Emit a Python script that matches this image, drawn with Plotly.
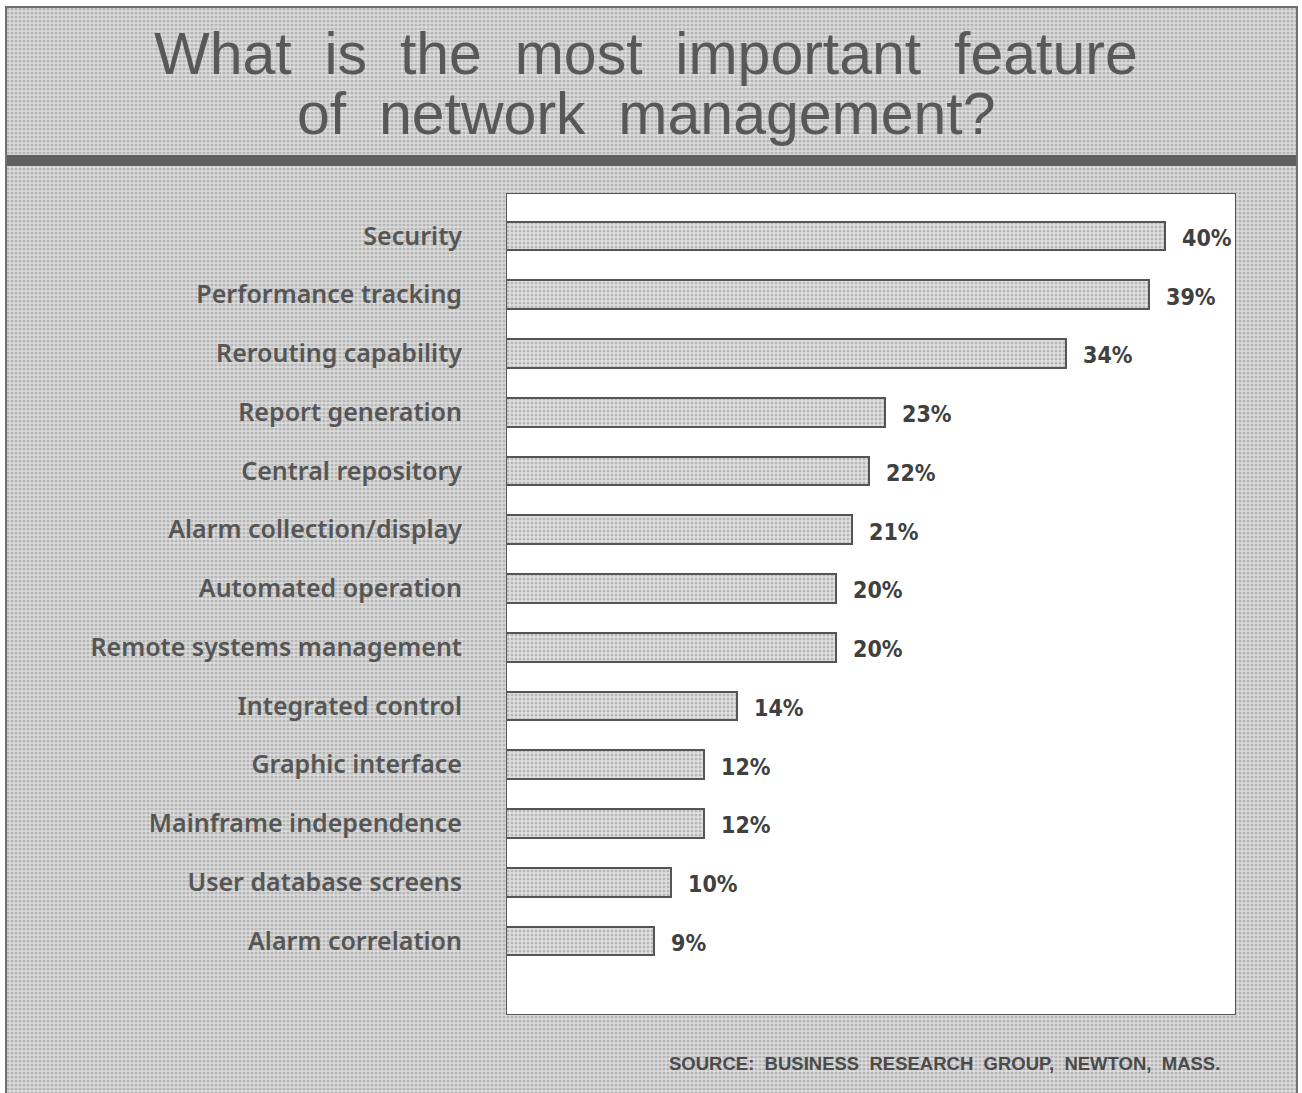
import plotly.graph_objects as go

# ---------------- data ----------------
categories = [
    "Security",
    "Performance tracking",
    "Rerouting capability",
    "Report generation",
    "Central repository",
    "Alarm collection/display",
    "Automated operation",
    "Remote systems management",
    "Integrated control",
    "Graphic interface",
    "Mainframe independence",
    "User database screens",
    "Alarm correlation",
]
values = [40, 39, 34, 23, 22, 21, 20, 20, 14, 12, 12, 10, 9]
value_labels = [f"{v}%" for v in values]
title_lines = ["What is the most important feature", "of network management?"]
source_text = "SOURCE: BUSINESS RESEARCH GROUP, NEWTON, MASS."

# ---------------- layout helpers ----------------
W, H = 1302, 1093


def px(x):
    return x / W


def py(y):
    return 1 - y / H


def wide(s):
    return s.replace(" ", "\u00a0 ")


XMAX = 44.3
Y_TOP = -0.73
Y_BOT = len(categories) - 1 + 1.26

DOT = dict(shape=".", size=4, solidity=0.5, fgcolor="#8c8c8c", bgcolor="#dedede")
DOT_BAR = dict(shape=".", size=4, solidity=0.45, fgcolor="#8c8c8c", bgcolor="#e2e2e2")

fig = go.Figure()

# textured page background
fig.add_trace(go.Bar(
    x=[1], y=[0.5], base=[0], width=[1], orientation="h",
    xaxis="x", yaxis="y",
    marker=dict(color="#dedede", line=dict(width=0), pattern=DOT),
    hoverinfo="skip", showlegend=False,
))

# data bars
fig.add_trace(go.Bar(
    x=values, y=categories, orientation="h",
    xaxis="x2", yaxis="y2", width=0.49,
    marker=dict(color="#e2e2e2", line=dict(color="#555555", width=2), pattern=DOT_BAR),
    hoverinfo="skip", showlegend=False,
))

annotations = []
annotations.append(dict(
    xref="paper", yref="paper", x=px(646), y=py(54), xanchor="center", yanchor="middle",
    text=wide(title_lines[0]), showarrow=False,
    font=dict(family="Liberation Sans, Arial, sans-serif", size=59, color="#585858"),
))
annotations.append(dict(
    xref="paper", yref="paper", x=px(646), y=py(114), xanchor="center", yanchor="middle",
    text=wide(title_lines[1]), showarrow=False,
    font=dict(family="Liberation Sans, Arial, sans-serif", size=59, color="#585858"),
))
annotations.append(dict(
    xref="paper", yref="paper", x=px(1222), y=py(1063), xanchor="right", yanchor="middle",
    text=wide(source_text), showarrow=False,
    font=dict(family="Liberation Sans, Arial, sans-serif", size=18.5, color="#4a4a4a", weight="bold"),
))
for cat, v, lab in zip(categories, values, value_labels):
    annotations.append(dict(
        xref="x2", yref="y2", x=v, y=cat, xanchor="left", yanchor="middle",
        xshift=15, yshift=-2, text=lab, showarrow=False,
        font=dict(family="Liberation Sans Narrow, DejaVu Sans Condensed, Liberation Sans, sans-serif",
                  size=23, color="#404040", weight="bold"),
    ))

shapes = [
    # white plot panel with border
    dict(type="rect", xref="x2", yref="y2", x0=0, x1=XMAX, y0=Y_BOT, y1=Y_TOP,
         fillcolor="white", line=dict(color="#555555", width=2), layer="below"),
    # heavy rule under the header
    dict(type="rect", xref="paper", yref="paper", x0=px(6), x1=px(1297), y0=py(166), y1=py(155),
         fillcolor="#606060", line=dict(width=0), layer="above"),
    # outer frame
    dict(type="rect", xref="paper", yref="paper", x0=px(6), x1=px(1297), y0=-0.01, y1=py(7),
         fillcolor="rgba(0,0,0,0)", line=dict(color="#707070", width=2), layer="above"),
]

fig.update_layout(
    width=W, height=H,
    margin=dict(l=0, r=0, t=0, b=0),
    paper_bgcolor="white",
    plot_bgcolor="rgba(0,0,0,0)",
    showlegend=False,
    bargap=0,
    xaxis=dict(domain=[px(6), px(1297)], range=[0, 1], visible=False, fixedrange=True),
    yaxis=dict(domain=[0, py(7)], range=[0, 1], visible=False, fixedrange=True, anchor="x"),
    xaxis2=dict(domain=[px(506), px(1236)], range=[0, XMAX], visible=False,
                fixedrange=True, anchor="y2"),
    yaxis2=dict(domain=[py(1015), py(193)], anchor="x2", type="category",
                categoryorder="array", categoryarray=categories,
                range=[Y_BOT, Y_TOP], fixedrange=True,
                showgrid=False, zeroline=False, showline=False,
                ticks="outside", ticklen=38, tickcolor="rgba(0,0,0,0)",
                tickfont=dict(family="Noto Sans, Open Sans, sans-serif", size=25,
                              color="#555555", weight=600)),
    annotations=annotations,
    shapes=shapes,
)

fig.write_html("out.html")
